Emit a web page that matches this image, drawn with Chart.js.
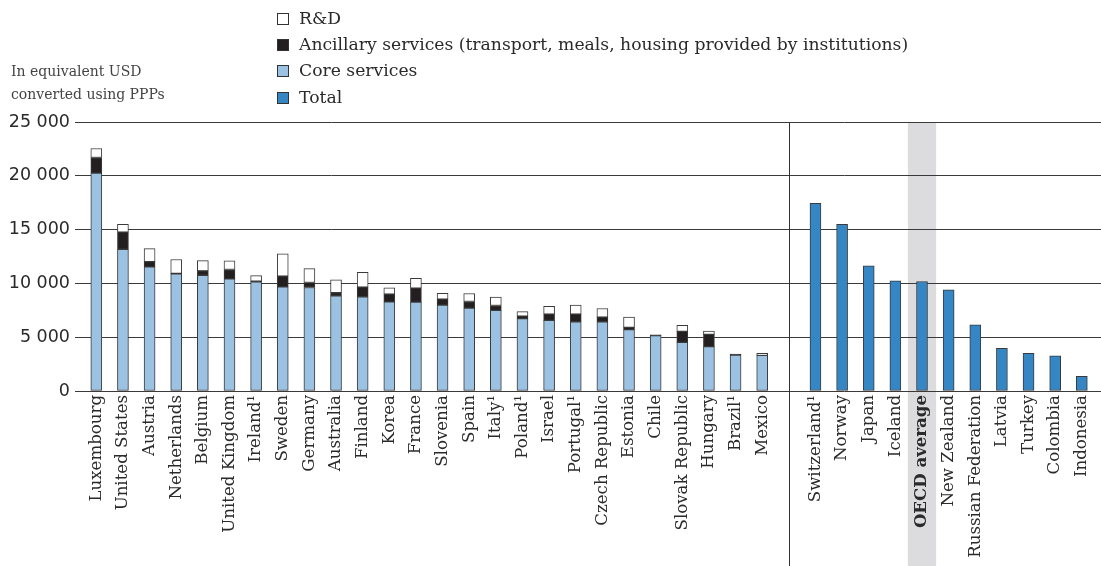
<!DOCTYPE html>
<html><head><meta charset="utf-8">
<script src="https://cdn.jsdelivr.net/npm/chart.js@4"></script>
<style>
html,body{margin:0;padding:0;background:#fff;}
#wrap{position:relative;width:1101px;height:566px;overflow:hidden;}
canvas{position:absolute;left:0;top:0;}
.leg{position:absolute;left:277px;font-family:"DejaVu Serif";font-size:17.2px;color:#2a2a2a;white-space:nowrap;line-height:20px;}
.box{display:inline-block;border:1px solid #333;margin-right:10px;vertical-align:-1px;box-sizing:border-box;width:12px;height:12px;}
.ytitle{position:absolute;left:11px;font-family:"DejaVu Serif";font-size:14px;color:#444;white-space:nowrap;}
</style></head>
<body>
<div id="wrap">
<canvas id="c" width="1101" height="566"></canvas>
<div class="leg" style="top:8px"><span class="box" style="background:#fff"></span>R&amp;D</div>
<div class="leg" style="top:34px"><span class="box" style="background:#231f20"></span>Ancillary services (transport, meals, housing provided by institutions)</div>
<div class="leg" style="top:60px"><span class="box" style="background:#9bc2e2"></span>Core services</div>
<div class="leg" style="top:87px"><span class="box" style="background:#3486c4"></span>Total</div>
<div class="ytitle" style="top:63px">In equivalent USD</div>
<div class="ytitle" style="top:86px">converted using PPPs</div>
</div>
<script>
const categories = ['Luxembourg','United States','Austria','Netherlands','Belgium','United Kingdom','Ireland¹','Sweden','Germany','Australia','Finland','Korea','France','Slovenia','Spain','Italy¹','Poland¹','Israel','Portugal¹','Czech Republic','Estonia','Chile','Slovak Republic','Hungary','Brazil¹','Mexico','',
  'Switzerland¹','Norway','Japan','Iceland','OECD average','New Zealand','Russian Federation','Latvia','Turkey','Colombia','Indonesia'];
const coreServices = [20250,13170,11530,10880,10760,10420,10140,9680,9620,8850,8760,8290,8260,7980,7700,7490,6720,6560,6440,6440,5700,5150,4520,4120,3330,3310,null,
  null,null,null,null,null,null,null,null,null,null,null];
const ancillaryServices = [1450,1600,500,50,400,870,60,990,460,280,890,710,1300,560,620,460,240,580,700,430,210,80,1020,1140,100,null,null,
  null,null,null,null,null,null,null,null,null,null,null];
const researchDev = [840,720,1200,1290,960,800,530,2070,1300,1200,1390,580,900,530,740,770,410,740,840,800,960,null,560,310,null,200,null,
  null,null,null,null,null,null,null,null,null,null,null];
const totalOnly = [null,null,null,null,null,null,null,null,null,null,null,null,null,null,null,null,null,null,null,null,null,null,null,null,null,null,null,
  17440,15490,11630,10240,10180,9410,6160,3960,3500,3280,1360];
const yTickValues = [0,5000,10000,15000,20000,25000];
const yTickLabels = ['0','5 000','10 000','15 000','20 000','25 000'];
const dividerIndex = 26;
const oecdIndex = 31;

const toPts = arr => arr.map((v,i)=>({x:i,y:v}));
const common = {borderColor:'#3a3a3a', borderWidth:1, borderSkipped:false, barThickness:11};

const decor = {
  id:'decor',
  beforeDraw(chart){
    const {ctx, chartArea, scales:{x}} = chart;
    const l = x.getPixelForValue(oecdIndex-0.53), r = x.getPixelForValue(oecdIndex+0.53);
    ctx.save(); ctx.fillStyle='#dcdcde';
    ctx.fillRect(l, chartArea.top, r-l, chart.height-chartArea.top);
    ctx.restore();
  },
  afterDraw(chart){
    const {ctx, chartArea, scales:{x}} = chart;
    const px = Math.round(x.getPixelForValue(dividerIndex))+0.5;
    ctx.save(); ctx.strokeStyle='#333'; ctx.lineWidth=1;
    ctx.beginPath(); ctx.moveTo(px, chartArea.top); ctx.lineTo(px, chart.height); ctx.stroke();
    ctx.restore();
  }
};

new Chart(document.getElementById('c'), {
  type:'bar',
  data:{datasets:[
    Object.assign({label:'Core services', data:toPts(coreServices), backgroundColor:'#9bc2e2'}, common),
    Object.assign({label:'Ancillary services', data:toPts(ancillaryServices), backgroundColor:'#231f20'}, common),
    Object.assign({label:'R&D', data:toPts(researchDev), backgroundColor:'#ffffff'}, common),
    Object.assign({label:'Total', data:toPts(totalOnly), backgroundColor:'#3486c4'}, common)
  ]},
  options:{
    responsive:false, animation:false,
    layout:{padding:{top:122,left:0,right:0,bottom:0}},
    plugins:{legend:{display:false}, tooltip:{enabled:false}},
    scales:{
      x:{type:'linear', stacked:true, min:-0.8, max:37.72, offset:false,
        grid:{display:false, drawTicks:false}, border:{display:false},
        afterBuildTicks(s){ s.ticks = categories.map((c,i)=>({value:i})).filter(t=>categories[t.value]!==''); },
        afterFit(s){ s.height = 175; s.paddingLeft = 0; s.paddingRight = 0; },
        ticks:{autoSkip:false, minRotation:90, maxRotation:90, padding:4, color:'#2a2a2a',
          callback:(v)=>categories[v],
          font:(ctx)=>({family:'DejaVu Serif', size:16.6, weight:(ctx.tick && ctx.tick.value===oecdIndex)?'bold':'normal'})}
      },
      y:{stacked:true, min:0, max:25000,
        afterBuildTicks(s){ s.ticks = yTickValues.map(v=>({value:v})); },
        afterFit(s){ s.width = 75; },
        grid:{color:'#3a3a3a', lineWidth:1, drawTicks:false},
        border:{display:false},
        ticks:{padding:5, color:'#2a2a2a', font:{family:'DejaVu Sans', size:17.5},
          callback:(v)=>yTickLabels[yTickValues.indexOf(v)]}
      }
    }
  },
  plugins:[decor]
});
</script>
</body></html>
